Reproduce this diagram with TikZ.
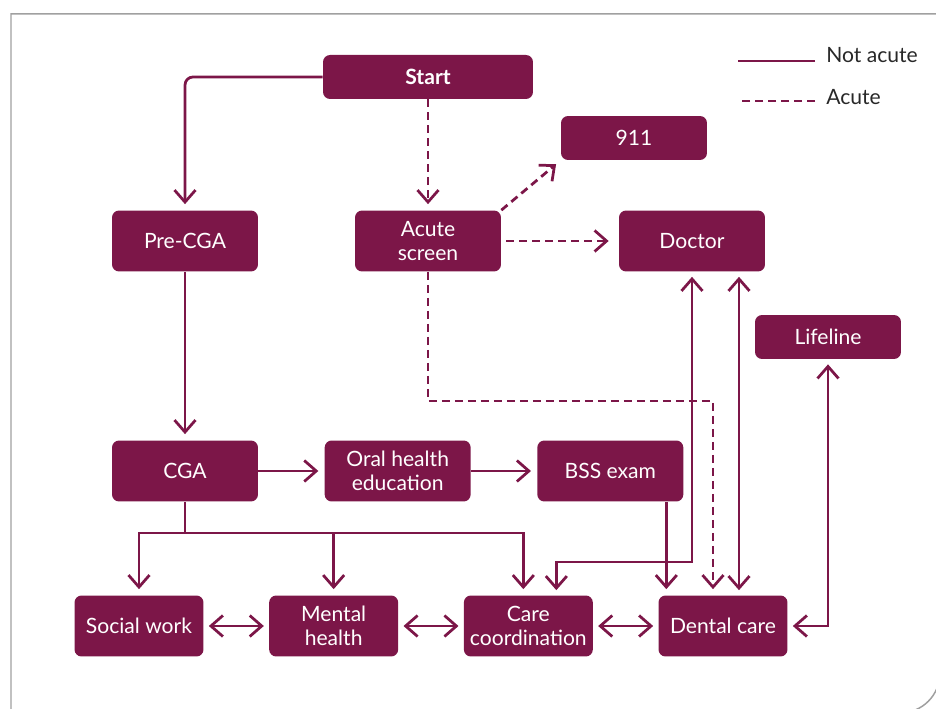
\documentclass[tikz,border=0pt]{standalone}
\usepackage{fontspec}
\setmainfont{Lato}
\usepackage{xcolor}
\usepackage{tikz}
\usetikzlibrary{arrows.meta, positioning}

\definecolor{plum}{RGB}{124,22,72}
\definecolor{framegray}{RGB}{160,160,160}
\definecolor{keytext}{RGB}{40,40,40}

\begin{document}
\begin{tikzpicture}[
    x=0.02cm, y=-0.02cm,
    node distance=1.3cm,
    >={Straight Barb[length=0.24cm,width=0.42cm]},
    box/.style={rectangle, rounded corners=0.14cm, fill=plum, text=white, minimum width=2.92cm, minimum height=1.22cm, inner sep=1pt, align=center, font=\fontsize{12}{14}\selectfont},
    slim/.style={box, minimum height=0.88cm},
    lowbox/.style={box, minimum width=2.58cm},
    arrow/.style={->, line width=0.055cm, plum, shorten >=0.12cm},
    twoway/.style={<->, line width=0.055cm, plum, shorten <=0.1cm, shorten >=0.1cm},
    urgent/.style={arrow, dash pattern=on 0.16cm off 0.1cm},
    keylabel/.style={anchor=base west, inner sep=0pt, text=keytext, font=\fontsize{12}{14}\selectfont}
]

\clip (0,0) rectangle (936,709);
\draw[framegray, line width=0.03cm] (11,720) -- (11,14) -- (940,14) -- (940,673) arc[start angle=0, end angle=90, radius=40] -- (11,713);

\node[slim, minimum width=4.2cm, font=\fontsize{12}{14}\selectfont\bfseries] (start) at (428,77) {Start};
\node[box] (precga) at (185,241) {Pre-CGA};
\node[box] (acute) at (428,241) {Acute\\screen};
\node[slim] (n911) at (634,138) {911};
\node[box] (doctor) at (692,241) {Doctor};
\node[slim] (lifeline) at (828,337) {Lifeline};
\node[box] (cga) at (185,471) {CGA};
\node[box, right=1.32cm of cga] (oral) {Oral health\\education};
\node[box, right=1.32cm of oral] (bss) {BSS exam};
\node[lowbox] (social) at (139,626) {Social work};
\node[lowbox, right=of social] (mental) {Mental\\health};
\node[lowbox, right=of mental] (care) {Care\\coordination};
\node[lowbox, right=of care] (dental) {Dental care};

\node[keylabel] (notacute) at (826,63) {Not acute};
\node[keylabel] (acutekey) at (826,105) {Acute};
\draw[line width=0.055cm, plum] ([xshift=-0.22cm,yshift=0.04cm]notacute.base west) -- ++(-1.54cm,0);
\draw[line width=0.055cm, plum, dash pattern=on 0.16cm off 0.1cm] ([xshift=-0.22cm,yshift=0.08cm]acutekey.base west) -- ++(-1.54cm,0);

\coordinate (split) at (185,533);
\coordinate (careroute) at (0,562);
\coordinate (acuteroute) at (713,401);
\coordinate (carein) at ([xshift=0.56cm]care.north);
\coordinate (bssout) at ([xshift=1.12cm]bss.south);
\coordinate (docout) at ([xshift=0.32cm]dental.north);

\draw[arrow, rounded corners=0.16cm] (start.west) -| (precga.north);
\draw[urgent] (start) -- (acute);
\draw[urgent] (acute.north east) -- (n911.south west);
\draw[urgent, shorten <=0.1cm, shorten >=0.2cm] (acute) -- (doctor);
\draw[urgent] (acute) |- (acuteroute) -- (acuteroute |- dental.north);
\draw[arrow] (precga) -- (cga);
\draw[arrow] (cga) -- (oral);
\draw[arrow] (oral) -- (bss);
\draw[line width=0.055cm, plum] (cga) -- (split);
\draw[arrow] (split) -| (social);
\draw[arrow] (split) -| (mental);
\draw[arrow] (split) -| ([xshift=-0.1cm]care.north);
\draw[twoway] (social) -- (mental);
\draw[twoway] (mental) -- (care);
\draw[twoway] (care) -- (dental);
\draw[arrow] (bssout) -- (bssout |- dental.north);
\draw[twoway] (carein) -- (carein |- careroute) -| (doctor);
\draw[twoway] (docout) -- (docout |- doctor.south);
\draw[twoway] (dental) -| (lifeline);

\end{tikzpicture}
\end{document}
